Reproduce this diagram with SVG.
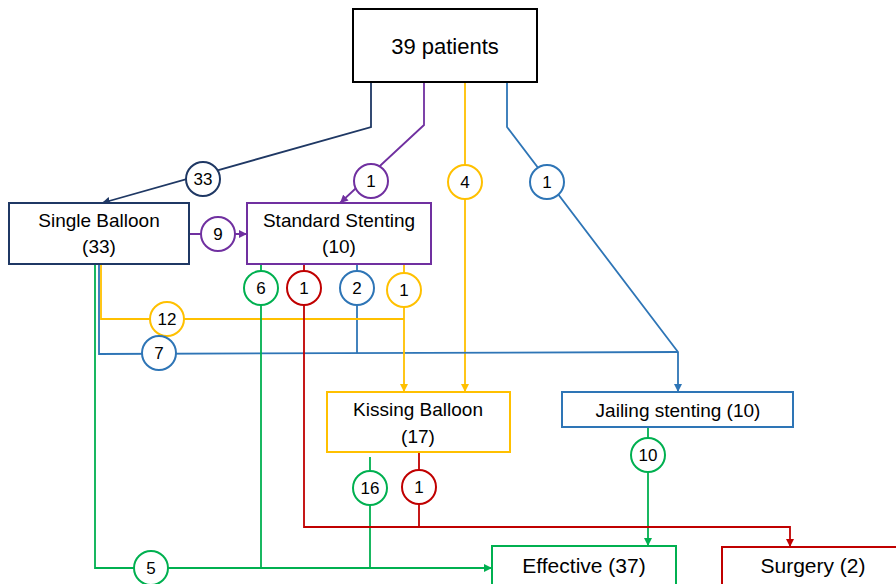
<svg xmlns="http://www.w3.org/2000/svg" width="896" height="584" viewBox="0 0 896 584">
<style>
text{font-family:"Liberation Sans",Arial,sans-serif;fill:#000;text-anchor:middle}
.box{fill:#fff;stroke-width:2}
.t{font-size:19px}
.c{fill:#fff;stroke-width:2}
.n{font-size:17px}
.ln{fill:none;stroke-width:1.8}
.navy{stroke:#1F3864}.purple{stroke:#7030A0}.yellow{stroke:#FFC000}.blue{stroke:#2E75B6}.green{stroke:#00B050}.red{stroke:#C00000}
</style>
<defs>
<marker id="aN" markerUnits="userSpaceOnUse" markerWidth="9" markerHeight="8" refX="8" refY="4" orient="auto"><path d="M0,0L8,4L0,8z" fill="#1F3864"/></marker>
<marker id="aP" markerUnits="userSpaceOnUse" markerWidth="9" markerHeight="8" refX="8" refY="4" orient="auto"><path d="M0,0L8,4L0,8z" fill="#7030A0"/></marker>
<marker id="aY" markerUnits="userSpaceOnUse" markerWidth="9" markerHeight="8" refX="8" refY="4" orient="auto"><path d="M0,0L8,4L0,8z" fill="#FFC000"/></marker>
<marker id="aB" markerUnits="userSpaceOnUse" markerWidth="9" markerHeight="8" refX="8" refY="4" orient="auto"><path d="M0,0L8,4L0,8z" fill="#2E75B6"/></marker>
<marker id="aG" markerUnits="userSpaceOnUse" markerWidth="9" markerHeight="8" refX="8" refY="4" orient="auto"><path d="M0,0L8,4L0,8z" fill="#00B050"/></marker>
<marker id="aR" markerUnits="userSpaceOnUse" markerWidth="9" markerHeight="8" refX="8" refY="4" orient="auto"><path d="M0,0L8,4L0,8z" fill="#C00000"/></marker>
</defs>
<rect width="896" height="584" fill="#fff"/>
<g id="connectors">
<polyline class="ln navy" points="371,82 371,127 102,203" marker-end="url(#aN)"/>
<polyline class="ln purple" points="424,82 424,125 340,203" marker-end="url(#aP)"/>
<polyline class="ln purple" points="189,234 247,234" marker-end="url(#aP)"/>
<polyline class="ln yellow" points="465,82 465,392" marker-end="url(#aY)"/>
<polyline class="ln blue" points="507,82 507,127 678,352 678,392" marker-end="url(#aB)"/>
<polyline class="ln blue" points="99,264 99,354 678,352"/>
<polyline class="ln blue" points="357,264 357,353"/>
<polyline class="ln yellow" points="101,264 101,319 404,319"/>
<polyline class="ln yellow" points="404,264 404,392" marker-end="url(#aY)"/>
<polyline class="ln green" points="95,264 95,568 492,568" marker-end="url(#aG)"/>
<polyline class="ln green" points="261,264 261,568"/>
<polyline class="ln green" points="370,457 370,568"/>
<polyline class="ln green" points="648,427 648,546" marker-end="url(#aG)"/>
<polyline class="ln red" points="304,264 304,527 790,527 790,547" marker-end="url(#aR)"/>
<polyline class="ln red" points="419,452 419,527"/>
<g id="labels">
<circle class="c navy" cx="203" cy="179" r="17"/><text class="n" x="203" y="185">33</text>
<circle class="c purple" cx="371" cy="181" r="17"/><text class="n" x="371" y="187">1</text>
<circle class="c purple" cx="218" cy="234" r="17"/><text class="n" x="218" y="240">9</text>
<circle class="c yellow" cx="465" cy="182" r="17"/><text class="n" x="465" y="188">4</text>
<circle class="c blue" cx="547" cy="182" r="17"/><text class="n" x="547" y="188">1</text>
<circle class="c green" cx="261" cy="288" r="17"/><text class="n" x="261" y="294">6</text>
<circle class="c red" cx="304" cy="288" r="17"/><text class="n" x="304" y="294">1</text>
<circle class="c blue" cx="357" cy="288" r="17"/><text class="n" x="357" y="294">2</text>
<circle class="c yellow" cx="404" cy="290" r="17"/><text class="n" x="404" y="296">1</text>
<circle class="c yellow" cx="167" cy="319" r="17"/><text class="n" x="167" y="325">12</text>
<circle class="c blue" cx="159" cy="353" r="17"/><text class="n" x="159" y="359">7</text>
<circle class="c green" cx="151" cy="568" r="17"/><text class="n" x="151" y="574">5</text>
<circle class="c green" cx="370" cy="488" r="17"/><text class="n" x="370" y="494">16</text>
<circle class="c red" cx="419" cy="487" r="17"/><text class="n" x="419" y="493">1</text>
<circle class="c green" cx="648" cy="455" r="17"/><text class="n" x="648" y="461">10</text>
</g>
</g>
<g id="patients"><rect class="box" x="353" y="9" width="184" height="73" stroke="#000"/><text x="445" y="54" font-size="22">39 patients</text></g>
<g id="single"><rect class="box" x="9" y="203" width="180" height="61" stroke="#1F3864"/><text class="t" x="99" y="227">Single Balloon</text><text class="t" x="99" y="253">(33)</text></g>
<g id="standard"><rect class="box" x="247" y="203" width="184" height="61" stroke="#7030A0"/><text class="t" x="339" y="227">Standard Stenting</text><text class="t" x="339" y="253">(10)</text></g>
<g id="kissing"><rect class="box" x="327" y="392" width="183" height="60" stroke="#FFC000"/><text class="t" x="418" y="416">Kissing Balloon</text><text class="t" x="418" y="443">(17)</text></g>
<g id="jailing"><rect class="box" x="562" y="392" width="231" height="35" stroke="#2E75B6"/><text class="t" x="678" y="417">Jailing stenting (10)</text></g>
<g id="effective"><rect class="box" x="492" y="546" width="184" height="50" stroke="#00B050"/><text x="584" y="573" font-size="21">Effective (37)</text></g>
<g id="surgery"><rect class="box" x="722" y="547" width="190" height="50" stroke="#C00000"/><text x="813" y="573" font-size="21">Surgery (2)</text></g>
</svg>
